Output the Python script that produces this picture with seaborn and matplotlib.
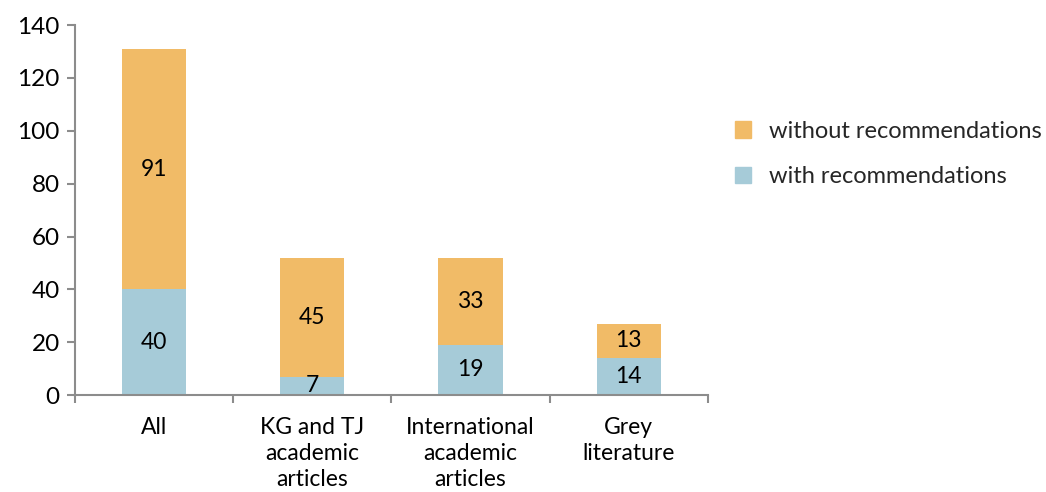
import matplotlib.pyplot as plt
import seaborn as sns
import pandas as pd
from matplotlib.patches import Patch
from matplotlib.ticker import FixedLocator

# Data
categories = ['All', 'KG and TJ\nacademic\narticles', 'International\nacademic\narticles', 'Grey\nliterature']
with_rec = [40, 7, 19, 14]
without_rec = [91, 45, 33, 13]

col_with = '#A6CBD8'
col_without = '#F1BB67'

sns.set_theme(style='white')
plt.rcParams['font.family'] = ['Lato', 'DejaVu Sans']

df = pd.DataFrame({'category': categories, 'with': with_rec, 'without': without_rec})

fig = plt.figure(figsize=(10.46, 4.92), dpi=100)
ax = fig.add_axes([0.0717, 0.197, 0.605, 0.752])

sns.barplot(data=df, x='category', y='with', color=col_with, width=0.405,
            saturation=1, linewidth=0, ax=ax)
sns.barplot(data=df, x='category', y='without', bottom=df['with'], color=col_without,
            width=0.405, saturation=1, linewidth=0, ax=ax)

# segment labels
for i, (w, wo) in enumerate(zip(with_rec, without_rec)):
    ax.text(i, w / 2, str(w), ha='center', va='center', fontsize=16.5, color='black')
    ax.text(i, w + wo / 2, str(wo), ha='center', va='center', fontsize=16.5, color='black')

ax.set_xlim(-0.5, len(categories) - 0.5)
ax.set_ylim(0, 140)
ax.set_yticks(range(0, 141, 20))
ax.set_xlabel('')
ax.set_ylabel('')

for s in ['top', 'right']:
    ax.spines[s].set_visible(False)
for s in ['left', 'bottom']:
    ax.spines[s].set_color('#8c8c8c')
    ax.spines[s].set_linewidth(1.5)

ax.tick_params(axis='y', which='major', left=True, length=6, width=1.5, color='#8c8c8c',
               labelsize=17.5, pad=5, labelcolor='black')
ax.tick_params(axis='x', which='major', bottom=False, labelsize=16.5, pad=10, labelcolor='black')
ax.xaxis.set_minor_locator(FixedLocator([-0.5, 0.5, 1.5, 2.5, 3.5]))
ax.tick_params(axis='x', which='minor', bottom=True, length=6, width=1.5, color='#8c8c8c')
for lbl in ax.get_xticklabels():
    lbl.set_linespacing(1.3)

handles = [Patch(color=col_without, label='without recommendations'),
           Patch(color=col_with, label='with recommendations')]
fig.legend(handles=handles, loc='center left', bbox_to_anchor=(0.682, 0.687), frameon=False,
           fontsize=17, handlelength=0.7, handleheight=0.7, handletextpad=0.75,
           labelspacing=1.05)

fig.savefig('out.png', dpi=100)
